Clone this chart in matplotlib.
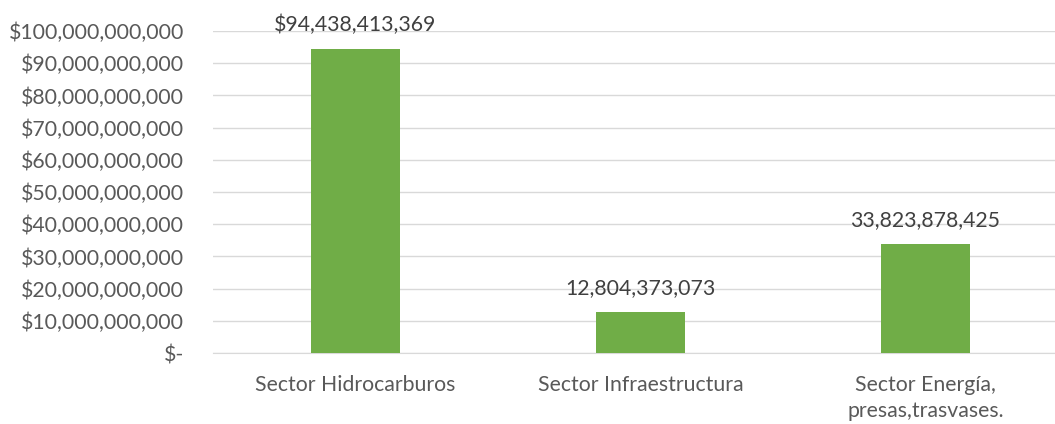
import matplotlib
matplotlib.use("Agg")
from matplotlib import pyplot as plt
from matplotlib.ticker import FuncFormatter

categories = ["Sector Hidrocarburos", "Sector Infraestructura", "Sector Energía,\npresas,trasvases."]
values = [94438413369, 12804373073, 33823878425]
bar_labels = ["$94,438,413,369", "12,804,373,073", "33,823,878,425"]

plt.rcParams['font.family'] = ['Lato', 'DejaVu Sans']
txt = "#595959"

fig = plt.figure(figsize=(10.55, 4.24), dpi=100)
ax = fig.add_axes([213/1055, 71/424, 855/1055, 322/424])

x = range(len(categories))
bars = ax.bar(x, values, width=0.315, color="#70AD47", zorder=3)
for b, lab in zip(bars, bar_labels):
    ax.text(b.get_x() + b.get_width()/2, b.get_height() + 4.2e9, lab,
            ha="center", va="bottom", fontsize=15.3, color="#404040")

ax.set_xlim(-0.5, 2.5)
ax.set_ylim(0, 1e11)
ax.set_yticks([i*1e10 for i in range(11)])
ax.yaxis.set_major_formatter(FuncFormatter(lambda v, p: "$-" if v == 0 else "${:,.0f}".format(v)))
ax.set_xticks(list(x))
ax.set_xticklabels(categories, linespacing=1.35)
ax.tick_params(axis="both", length=0, labelsize=15.3, labelcolor=txt)
ax.tick_params(axis="y", pad=21)
ax.tick_params(axis="x", pad=16)
ax.grid(axis="y", color="#D9D9D9", linewidth=1, zorder=0)
for s in ["top", "right", "left"]:
    ax.spines[s].set_visible(False)
ax.spines["bottom"].set_color("#D9D9D9")

fig.savefig("out.png", dpi=100)
